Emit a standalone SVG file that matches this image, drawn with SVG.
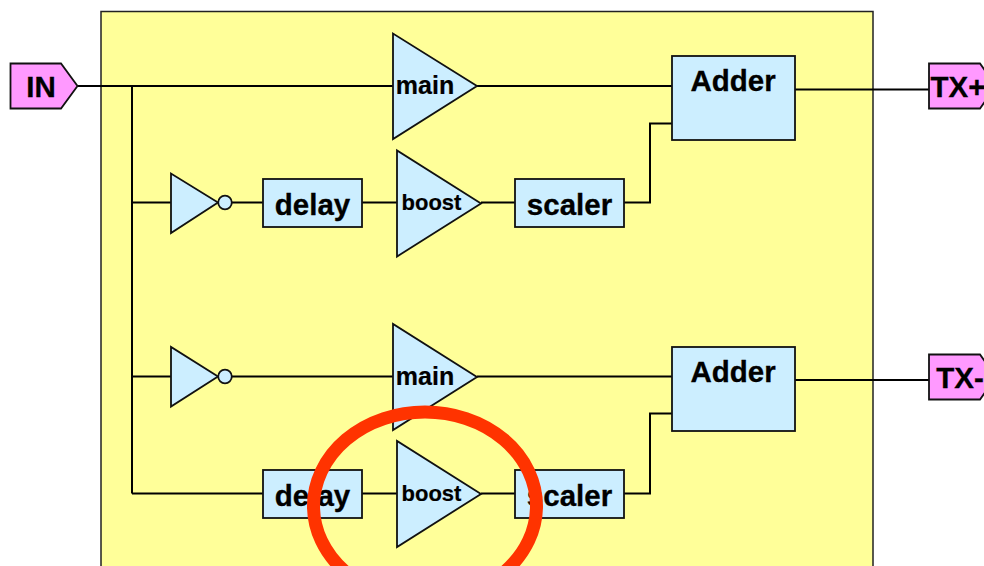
<svg xmlns="http://www.w3.org/2000/svg" width="984" height="566" viewBox="0 0 984 566">
<defs><style>
text{font-family:"Liberation Sans",Arial,sans-serif;font-weight:bold;fill:#000;text-anchor:middle}
.b{fill:#cceeff;stroke:#111;stroke-width:1.800}
.p{fill:#ff99ff;stroke:#111;stroke-width:1.800}
.l{fill:none;stroke:#000;stroke-width:2}
.t{font-size:29.500px;stroke:#000;stroke-width:.3px}
.m{font-size:25px;stroke:#000;stroke-width:.2px}
.s{font-size:22px;stroke:#000;stroke-width:.2px}
</style></defs>
<rect id="board" x="101" y="11.500" width="772" height="600" fill="#ffff99" stroke="#222" stroke-width="1.500"/>
<g id="connectors">
<path class="l" d="M77 86H393M132 86V493.500M132 202.500H171M232 202.500H263M362 202.500H397M481 202.500H515M624 202.500H650V123.500H672M132 376.500H171M232 376.500H393M477 376.500H672M132 493.500H263M362 493.500H397M481 493.500H515M624 493.500H650V413.500H672M477 86H672M795 89.500H929M795 380H929"/>
</g>
<g id="in"><path class="p" d="M10.500 63.500H61L77.500 86L61 108.500H10.500Z"/><text class="t" x="41" y="97">IN</text></g>
<g id="main1"><path class="b" d="M393 33.500V139L477 86Z"/><text class="m" x="425" y="94">main</text></g>
<g id="adder1"><rect class="b" x="672" y="56" width="123" height="84"/><text class="t" x="733" y="91">Adder</text></g>
<g id="txp"><path class="p" d="M929 63.500H980L996 86L980 108.500H929Z"/><text class="t" x="958" y="97">TX+</text></g>
<g id="inv1"><path class="b" d="M171 173.500V233L218 202.500Z"/><circle class="b" cx="225" cy="202.500" r="6.800"/></g>
<g id="delay1"><rect class="b" x="263" y="179" width="99" height="48"/><text class="t" x="312.500" y="215">delay</text></g>
<g id="boost1"><path class="b" d="M397 150.500V256.500L481 203.500Z"/><text class="s" x="431.500" y="210">boost</text></g>
<g id="scaler1"><rect class="b" x="515" y="179" width="109" height="48"/><text class="t" x="569.500" y="215">scaler</text></g>
<g id="inv2"><path class="b" d="M171 347V406.500L218 376.500Z"/><circle class="b" cx="225" cy="376.500" r="6.800"/></g>
<g id="main2"><path class="b" d="M393 324V430L477 377Z"/><text class="m" x="425" y="385">main</text></g>
<g id="adder2"><rect class="b" x="672" y="347" width="123" height="84"/><text class="t" x="733" y="382">Adder</text></g>
<g id="txm"><path class="p" d="M929 354.500H980L996 377L980 399.500H929Z"/><text class="t" x="960" y="388">TX-</text></g>
<g id="delay2"><rect class="b" x="263" y="470" width="99" height="48"/><text class="t" x="312.500" y="506">delay</text></g>
<g id="boost2"><path class="b" d="M397 441V547L481 494Z"/><text class="s" x="431.500" y="501">boost</text></g>
<g id="scaler2"><rect class="b" x="515" y="470" width="109" height="48"/><text class="t" x="569.500" y="506">scaler</text></g>
<ellipse id="highlight" cx="425" cy="506" rx="111.500" ry="94" fill="none" stroke="#ff3300" stroke-width="13"/>
</svg>
